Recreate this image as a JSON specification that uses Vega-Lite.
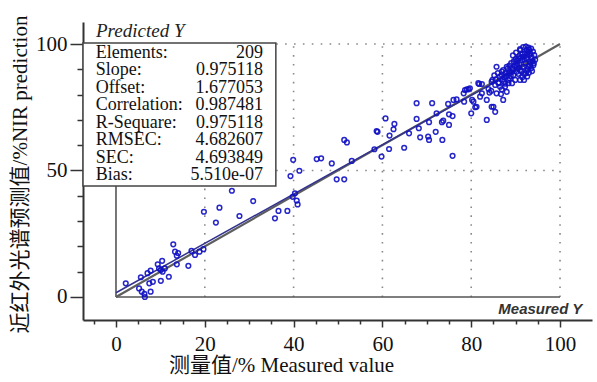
{
  "$schema": "https://vega.github.io/schema/vega-lite/v6.json",
  "width": 509,
  "height": 298,
  "autosize": {"type": "none"},
  "padding": {"left": 83, "top": 22, "right": 5, "bottom": 62},
  "background": "white",
  "config": {"view": {"stroke": null}, "font": "Liberation Serif, Times New Roman, serif"},
  "datasets": {
    "pts": [
      {"measured":2.2,"predicted":5.4},{"measured":5.6,"predicted":7.8},{"measured":5.2,"predicted":3.4},{"measured":5.8,"predicted":2.1},{"measured":6.5,"predicted":0.0},
      {"measured":6.4,"predicted":1.2},{"measured":7.8,"predicted":2.1},{"measured":7.1,"predicted":9.4},{"measured":7.8,"predicted":10.4},{"measured":7.5,"predicted":5.4},
      {"measured":8.3,"predicted":6.0},{"measured":9.4,"predicted":12.9},{"measured":9.7,"predicted":11.3},{"measured":10.4,"predicted":14.3},{"measured":10.1,"predicted":10.7},
      {"measured":10.5,"predicted":10.0},{"measured":10.1,"predicted":6.4},{"measured":11.0,"predicted":11.3},{"measured":11.9,"predicted":8.0},{"measured":12.9,"predicted":20.8},
      {"measured":13.3,"predicted":17.9},{"measured":13.7,"predicted":16.3},{"measured":14.0,"predicted":17.3},{"measured":13.7,"predicted":12.9},{"measured":16.3,"predicted":12.3},
      {"measured":17.0,"predicted":18.2},{"measured":17.8,"predicted":16.6},{"measured":18.8,"predicted":17.9},{"measured":19.7,"predicted":18.9},{"measured":19.8,"predicted":33.7},
      {"measured":22.5,"predicted":29.4},{"measured":23.3,"predicted":35.3},{"measured":27.8,"predicted":32.0},{"measured":30.9,"predicted":37.9},{"measured":35.8,"predicted":31.1},
      {"measured":36.6,"predicted":34.0},{"measured":38.6,"predicted":34.0},{"measured":40.9,"predicted":36.6},
      {"measured":39.9,"predicted":54.2},{"measured":41.3,"predicted":49.9},{"measured":39.3,"predicted":47.8},{"measured":26.1,"predicted":42.0},{"measured":40.3,"predicted":41.0},
      {"measured":40.7,"predicted":38.1},{"measured":39.8,"predicted":39.6},
      {"measured":60.7,"predicted":70.6},{"measured":62.7,"predicted":68.4},{"measured":58.7,"predicted":65.6},{"measured":58.9,"predicted":65.3},{"measured":62.5,"predicted":66.3},
      {"measured":61.6,"predicted":63.8},{"measured":51.4,"predicted":62.1},{"measured":52.0,"predicted":61.1},{"measured":58.2,"predicted":58.4},{"measured":61.5,"predicted":58.5},
      {"measured":59.8,"predicted":55.5},{"measured":45.2,"predicted":54.5},{"measured":46.2,"predicted":54.8},{"measured":48.6,"predicted":52.8},{"measured":53.1,"predicted":53.8},
      {"measured":49.7,"predicted":46.5},{"measured":51.4,"predicted":46.5},
      {"measured":67.7,"predicted":76.6},{"measured":71.2,"predicted":76.6},{"measured":67.7,"predicted":70.4},{"measured":72.2,"predicted":72.6},{"measured":70.5,"predicted":69.1},
      {"measured":68.2,"predicted":66.7},{"measured":68.5,"predicted":63.1},{"measured":70.3,"predicted":63.4},{"measured":70.5,"predicted":62.1},{"measured":72.0,"predicted":65.3},
      {"measured":73.5,"predicted":62.1},{"measured":73.4,"predicted":69.1},{"measured":73.7,"predicted":69.7},{"measured":75.0,"predicted":68.0},{"measured":75.8,"predicted":71.5},
      {"measured":75.0,"predicted":72.2},{"measured":74.8,"predicted":76.3},{"measured":76.0,"predicted":77.9},{"measured":76.7,"predicted":78.1},{"measured":75.8,"predicted":55.8},
      {"measured":64.9,"predicted":59.0},{"measured":66.0,"predicted":64.7},{"measured":78.4,"predicted":77.2},{"measured":80.2,"predicted":77.9},{"measured":80.0,"predicted":72.6},
      {"measured":80.9,"predicted":75.0},{"measured":81.2,"predicted":75.2},{"measured":82.0,"predicted":79.2},{"measured":78.6,"predicted":81.8},{"measured":79.0,"predicted":82.1},
      {"measured":79.7,"predicted":82.5},{"measured":81.8,"predicted":84.2},{"measured":82.4,"predicted":84.2},{"measured":83.5,"predicted":70.0},{"measured":85.0,"predicted":75.2},
      {"measured":84.6,"predicted":85.1},{"measured":84.8,"predicted":85.8},{"measured":84.1,"predicted":80.8},{"measured":84.5,"predicted":81.5},{"measured":85.7,"predicted":91.0},
      {"measured":86.1,"predicted":84.7},{"measured":86.5,"predicted":83.1},{"measured":86.7,"predicted":80.2},{"measured":86.9,"predicted":89.1},{"measured":87.2,"predicted":89.7},
      {"measured":87.4,"predicted":85.1},{"measured":88.0,"predicted":87.4},{"measured":88.4,"predicted":84.5},{"measured":88.7,"predicted":89.1},{"measured":89.3,"predicted":90.4},
      {"measured":89.5,"predicted":87.7},{"measured":89.9,"predicted":85.8},{"measured":90.2,"predicted":91.7},{"measured":90.6,"predicted":94.3},{"measured":91.0,"predicted":89.7},
      {"measured":91.1,"predicted":97.6},{"measured":91.6,"predicted":93.7},{"measured":91.9,"predicted":85.8},{"measured":91.0,"predicted":85.8},{"measured":92.1,"predicted":96.3},
      {"measured":92.5,"predicted":97.6},{"measured":92.9,"predicted":91.0},{"measured":93.1,"predicted":95.7},{"measured":93.2,"predicted":93.0},{"measured":93.5,"predicted":90.4},
      {"measured":92.3,"predicted":88.4},
      {"measured":88.0,"predicted":91.0},{"measured":86.9,"predicted":87.7},{"measured":88.4,"predicted":88.4},{"measured":88.7,"predicted":86.4},{"measured":85.4,"predicted":83.8},
      {"measured":86.2,"predicted":84.5},{"measured":86.9,"predicted":82.1},{"measured":87.6,"predicted":83.1},{"measured":89.2,"predicted":84.5},{"measured":88.0,"predicted":81.1},
      {"measured":85.7,"predicted":80.5},{"measured":83.9,"predicted":82.2},{"measured":87.2,"predicted":77.9},{"measured":83.5,"predicted":77.9},{"measured":82.4,"predicted":80.5},
      {"measured":81.6,"predicted":84.5},{"measured":79.4,"predicted":82.1},{"measured":78.3,"predicted":80.5},{"measured":80.5,"predicted":77.2},{"measured":84.6,"predicted":75.2},
      {"measured":85.4,"predicted":73.2},
      {"measured":89.0,"predicted":92.5},{"measured":89.6,"predicted":93.1},{"measured":90.0,"predicted":94.0},{"measured":90.4,"predicted":92.2},{"measured":90.8,"predicted":95.2},
      {"measured":91.2,"predicted":94.6},{"measured":91.5,"predicted":96.0},{"measured":91.8,"predicted":95.0},{"measured":92.0,"predicted":93.8},{"measured":92.2,"predicted":92.6},
      {"measured":92.4,"predicted":94.4},{"measured":92.6,"predicted":95.8},{"measured":92.8,"predicted":96.8},{"measured":93.0,"predicted":97.8},{"measured":93.3,"predicted":96.2},
      {"measured":93.6,"predicted":94.8},{"measured":93.8,"predicted":93.2},{"measured":94.0,"predicted":91.6},{"measured":93.7,"predicted":89.3},{"measured":93.0,"predicted":88.6},
      {"measured":92.6,"predicted":87.2},{"measured":91.5,"predicted":86.9},{"measured":90.6,"predicted":88.2},{"measured":90.2,"predicted":89.0},{"measured":89.8,"predicted":91.2},
      {"measured":89.1,"predicted":88.9},{"measured":88.6,"predicted":91.5},{"measured":88.2,"predicted":90.3},{"measured":87.8,"predicted":88.6},{"measured":87.5,"predicted":86.9},
      {"measured":87.0,"predicted":86.0},{"measured":86.5,"predicted":87.2},{"measured":86.0,"predicted":88.5},{"measured":85.5,"predicted":86.0},{"measured":85.2,"predicted":87.6},
      {"measured":89.4,"predicted":95.5},{"measured":90.1,"predicted":96.6},{"measured":91.0,"predicted":98.0},{"measured":91.7,"predicted":98.8},{"measured":92.3,"predicted":99.0},
      {"measured":92.9,"predicted":98.6},{"measured":93.5,"predicted":98.2},{"measured":93.9,"predicted":97.0},{"measured":94.2,"predicted":95.6},{"measured":94.4,"predicted":93.8},
      {"measured":94.1,"predicted":92.4},{"measured":93.2,"predicted":91.4},{"measured":92.7,"predicted":90.1},{"measured":91.6,"predicted":91.0},{"measured":91.3,"predicted":89.2},
      {"measured":90.7,"predicted":90.6},{"measured":90.3,"predicted":93.3},{"measured":89.5,"predicted":89.8},{"measured":88.9,"predicted":87.4},{"measured":88.3,"predicted":85.8},
      {"measured":87.7,"predicted":84.3},{"measured":91.9,"predicted":88.1},{"measured":92.5,"predicted":89.3},{"measured":93.4,"predicted":92.6},{"measured":90.9,"predicted":91.9}
    ],
    "stats": [
      {"stat":"Elements:","value":"209"},
      {"stat":"Slope:","value":"0.975118"},
      {"stat":"Offset:","value":"1.677053"},
      {"stat":"Correlation:","value":"0.987481"},
      {"stat":"R-Sequare:","value":"0.975118"},
      {"stat":"RMSEC:","value":"4.682607"},
      {"stat":"SEC:","value":"4.693849"},
      {"stat":"Bias:","value":"5.510e-07"}
    ],
    "vgrid": [{"g":20},{"g":40},{"g":60},{"g":80},{"g":100}],
    "hgrid": [{"g":50},{"g":100}],
    "target": [{"measured":0,"predicted":0},{"measured":100,"predicted":100}],
    "fit": [{"measured":0,"predicted":1.677},{"measured":94.5,"predicted":93.83}]
  },
  "resolve": {"scale": {"x": "independent", "y": "independent"}, "axis": {"x": "independent", "y": "independent"}},
  "layer": [
    {
      "data": {"name": "pts"},
      "mark": {"type": "point", "opacity": 0},
      "encoding": {
        "x": {"field": "measured", "type": "quantitative", "scale": {"domain": [-7.43, 107.2], "nice": false, "zero": false},
          "axis": {"orient": "bottom", "values": [0,20,40,60,80,100], "grid": false, "tickSize": 7, "tickWidth": 1.5, "tickColor": "#333", "domainColor": "#333", "domainWidth": 2,
            "labelFont": "Liberation Serif, Times New Roman, serif", "labelFontSize": 21, "labelColor": "#111", "labelPadding": 6, "labelFlush": false, "labelOverlap": false,
            "title": "测量值/% Measured value", "titleFont": "Liberation Serif, Times New Roman, Noto Sans CJK SC, serif", "titleFontSize": 21, "titleFontWeight": "normal", "titleColor": "#111",
            "titleX": 198, "titleY": 45, "titleBaseline": "middle", "titleAlign": "center"}},
        "y": {"field": "predicted", "type": "quantitative", "scale": {"domain": [-9.1, 108.7], "nice": false, "zero": false},
          "axis": {"orient": "left", "values": [0,50,100], "grid": false, "tickSize": 13, "tickWidth": 1.5, "tickColor": "#333", "domainColor": "#333", "domainWidth": 2,
            "labelFont": "Liberation Serif, Times New Roman, serif", "labelFontSize": 21, "labelColor": "#111", "labelPadding": 3, "labelFlush": false, "labelOverlap": false,
            "title": "近红外光谱预测值/%NIR prediction", "titleFont": "Liberation Serif, Times New Roman, Noto Sans CJK SC, serif", "titleFontSize": 21, "titleFontWeight": "normal", "titleColor": "#111",
            "titleX": -63, "titleY": 152, "titleAngle": -90, "titleBaseline": "middle", "titleAlign": "center"}}
      }
    },
    {
      "data": {"name": "pts"},
      "mark": {"type": "point", "opacity": 0},
      "encoding": {
        "x": {"field": "measured", "type": "quantitative", "scale": {"domain": [-7.43, 107.2], "nice": false, "zero": false},
          "axis": {"orient": "bottom", "values": [-5,5,10,15,25,30,35,45,50,55,65,70,75,85,90,95], "grid": false, "domain": false, "labels": false, "title": null, "tickSize": 4, "tickWidth": 1.5, "tickColor": "#333"}},
        "y": {"field": "predicted", "type": "quantitative", "scale": {"domain": [-9.1, 108.7], "nice": false, "zero": false},
          "axis": {"orient": "left", "values": [10,20,30,40,60,70,80,90], "grid": false, "domain": false, "labels": false, "title": null, "tickSize": 6, "tickWidth": 1.5, "tickColor": "#333"}}
      }
    },
    {
      "layer": [
        {
          "data": {"name": "vgrid"},
          "mark": {"type": "rule", "color": "#8a8a8a", "strokeWidth": 1.6, "strokeDash": [1.6, 7.3]},
          "encoding": {
            "x": {"field": "g", "type": "quantitative", "scale": {"domain": [-7.43, 107.2], "nice": false, "zero": false}, "axis": null},
            "y": {"datum": 0, "type": "quantitative", "scale": {"domain": [-9.1, 108.7], "nice": false, "zero": false}, "axis": null},
            "y2": {"datum": 100}
          }
        },
        {
          "data": {"name": "hgrid"},
          "mark": {"type": "rule", "color": "#8a8a8a", "strokeWidth": 1.6, "strokeDash": [1.6, 7.3]},
          "encoding": {
            "y": {"field": "g", "type": "quantitative", "axis": null},
            "x": {"datum": 0, "type": "quantitative", "axis": null},
            "x2": {"datum": 100}
          }
        },
        {
          "data": {"values": [{}]},
          "mark": {"type": "rule", "color": "#555", "strokeWidth": 1.6},
          "encoding": {
            "x": {"datum": 0, "type": "quantitative", "axis": null},
            "y": {"datum": 0, "type": "quantitative", "axis": null},
            "y2": {"datum": 100}
          }
        },
        {
          "data": {"values": [{}]},
          "mark": {"type": "rule", "color": "#555", "strokeWidth": 1.6},
          "encoding": {
            "y": {"datum": 0, "type": "quantitative", "axis": null},
            "x": {"datum": 0, "type": "quantitative", "axis": null},
            "x2": {"datum": 100}
          }
        },
        {
          "data": {"name": "target"},
          "mark": {"type": "line", "color": "#5e5e5e", "strokeWidth": 2.2},
          "encoding": {
            "x": {"field": "measured", "type": "quantitative", "axis": null},
            "y": {"field": "predicted", "type": "quantitative", "axis": null}
          }
        },
        {
          "data": {"name": "fit"},
          "mark": {"type": "line", "color": "#33338f", "strokeWidth": 1.5},
          "encoding": {
            "x": {"field": "measured", "type": "quantitative", "axis": null},
            "y": {"field": "predicted", "type": "quantitative", "axis": null}
          }
        },
        {
          "data": {"name": "pts"},
          "mark": {"type": "point", "shape": "circle", "filled": false, "color": "#1010c4", "size": 22, "strokeWidth": 1.5, "opacity": 0.9},
          "encoding": {
            "x": {"field": "measured", "type": "quantitative", "axis": null},
            "y": {"field": "predicted", "type": "quantitative", "axis": null}
          }
        },
        {
          "data": {"values": [{}]},
          "mark": {"type": "rect", "fill": "white", "stroke": "#444", "strokeWidth": 1.5},
          "encoding": {
            "x": {"datum": -7.43, "type": "quantitative", "axis": null},
            "x2": {"datum": 36.0},
            "y": {"datum": 43.9, "type": "quantitative", "axis": null},
            "y2": {"datum": 100.4}
          }
        },
        {
          "data": {"values": [{"t": "Predicted Y"}]},
          "mark": {"type": "text", "align": "left", "baseline": "middle", "font": "Liberation Serif, Times New Roman, serif", "fontStyle": "italic", "fontSize": 19, "color": "#222"},
          "encoding": {
            "x": {"datum": -4.5, "type": "quantitative", "axis": null},
            "y": {"datum": 105.3, "type": "quantitative", "axis": null},
            "text": {"field": "t"}
          }
        },
        {
          "data": {"values": [{"t": "Measured Y"}]},
          "mark": {"type": "text", "align": "right", "baseline": "middle", "font": "Liberation Sans, Arial, sans-serif", "fontStyle": "italic", "fontWeight": "bold", "fontSize": 15, "color": "#333"},
          "encoding": {
            "x": {"datum": 105.0, "type": "quantitative", "axis": null},
            "y": {"datum": -4.7, "type": "quantitative", "axis": null},
            "text": {"field": "t"}
          }
        }
      ]
    },
    {
      "data": {"name": "stats"},
      "layer": [
        {
          "mark": {"type": "text", "align": "left", "baseline": "middle", "font": "Liberation Serif, Times New Roman, serif", "fontSize": 18, "color": "#111"},
          "encoding": {
            "x": {"datum": -4.57, "type": "quantitative", "scale": {"domain": [-7.43, 107.2], "nice": false, "zero": false}, "axis": null},
            "y": {"field": "stat", "type": "ordinal", "sort": null, "axis": null, "scale": {"type": "point", "range": [31, 153], "padding": 0}},
            "text": {"field": "stat"}
          }
        },
        {
          "mark": {"type": "text", "align": "right", "baseline": "middle", "font": "Liberation Serif, Times New Roman, serif", "fontSize": 18, "color": "#111"},
          "encoding": {
            "x": {"datum": 33.1, "type": "quantitative", "axis": null},
            "y": {"field": "stat", "type": "ordinal", "sort": null, "axis": null},
            "text": {"field": "value"}
          }
        }
      ]
    }
  ]
}
